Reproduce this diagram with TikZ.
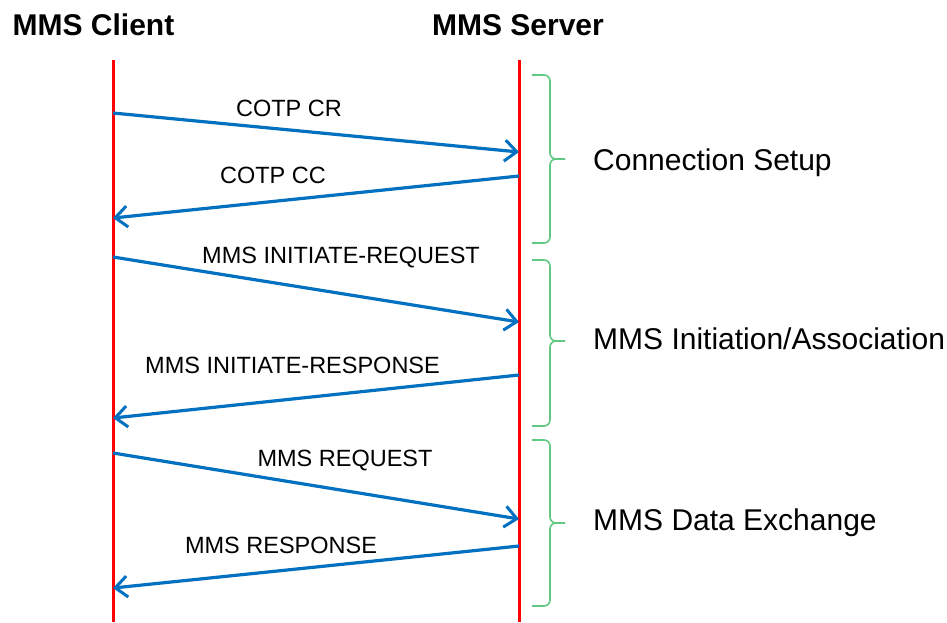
\documentclass[tikz,border=0pt]{standalone}
\usepackage{fontspec}
\setmainfont{Liberation Sans}
\usetikzlibrary{arrows.meta}

\definecolor{msgblue}{RGB}{0,112,192}
\definecolor{bracegreen}{RGB}{96,200,130}

\begin{document}
\begin{tikzpicture}[
			x=1pt,y=-1pt,
			>={Straight Barb[length=12pt,width=21pt,line width=3pt]},
			title/.style={
				inner sep=0pt,
				anchor=base,
				font=\fontsize{30}{36}\selectfont\bfseries
			},
			msglabel/.style={
				inner sep=0pt,
				anchor=base,
				font=\fontsize{23.5}{28}\selectfont
			},
			grplabel/.style={
				inner sep=0pt,
				anchor=base west,
				font=\fontsize{30}{36}\selectfont
			},
			lifeline/.style={red,line width=3pt},
			msg/.style={->,msgblue,line width=3.2pt},
			grp/.style={bracegreen,line width=1.6pt,rounded corners=6pt}
			]
			
			\useasboundingbox (0,0) rectangle (947,622);
			
			%%%%%%%%%%%%%%%%%%%%%%%%%%%%%%%%%%%%%%%%%%%%%%%%%%%%%%%%%%%%
			% Endpoints
			%%%%%%%%%%%%%%%%%%%%%%%%%%%%%%%%%%%%%%%%%%%%%%%%%%%%%%%%%%%%
			
			\node[title] (client) at (93.5,35) {MMS Client};
			
			\node[title] (server) at (518,35) {MMS Server};
			
			\coordinate (clienttop) at (113,60);
			\coordinate (clientbot) at (113,622);
			
			\coordinate (servertop) at (519,60);
			\coordinate (serverbot) at (519,622);
			
			\draw[lifeline] (clienttop) -- (clientbot);
			
			\draw[lifeline] (servertop) -- (serverbot);
			
			%%%%%%%%%%%%%%%%%%%%%%%%%%%%%%%%%%%%%%%%%%%%%%%%%%%%%%%%%%%%
			% Messages
			%%%%%%%%%%%%%%%%%%%%%%%%%%%%%%%%%%%%%%%%%%%%%%%%%%%%%%%%%%%%
			
			% COTP
			
			\coordinate (cr-from) at (113,113);
			\coordinate (cr-to) at (519,152);
			\node[msglabel] (cr) at (289,116) {COTP CR};
			
			\coordinate (cc-from) at (519,176);
			\coordinate (cc-to) at (113,218);
			\node[msglabel] (cc) at (273,183) {COTP CC};
			
			% Initiate
			
			\coordinate (inireq-from) at (113,257);
			\coordinate (inireq-to) at (519,322);
			\node[msglabel] (inireq) at (341,263) {MMS INITIATE-REQUEST};
			
			\coordinate (inirsp-from) at (519,375);
			\coordinate (inirsp-to) at (113,418);
			\node[msglabel] (inirsp) at (292.5,373) {MMS INITIATE-RESPONSE};
			
			% Data
			
			\coordinate (req-from) at (113,453);
			\coordinate (req-to) at (519,519);
			\node[msglabel] (req) at (345,466) {MMS REQUEST};
			
			\coordinate (rsp-from) at (519,546);
			\coordinate (rsp-to) at (113,588);
			\node[msglabel] (rsp) at (281,553) {MMS RESPONSE};
			
			\draw[msg] (cr-from) -- (cr-to);
			
			\draw[msg] (cc-from) -- (cc-to);
			
			\draw[msg] (inireq-from) -- (inireq-to);
			
			\draw[msg] (inirsp-from) -- (inirsp-to);
			
			\draw[msg] (req-from) -- (req-to);
			
			\draw[msg] (rsp-from) -- (rsp-to);
			
			%%%%%%%%%%%%%%%%%%%%%%%%%%%%%%%%%%%%%%%%%%%%%%%%%%%%%%%%%%%%
			% Phases
			%%%%%%%%%%%%%%%%%%%%%%%%%%%%%%%%%%%%%%%%%%%%%%%%%%%%%%%%%%%%
			
			\draw[grp] (532,75) -- (550,75) -- (550,159) -- (565,159);
			\draw[grp] (565,159) -- (550,159) -- (550,243) -- (532,243);
			\node[grplabel] (setup) at (593,170) {Connection Setup};
			
			\draw[grp] (532,260) -- (550,260) -- (550,341) -- (565,341);
			\draw[grp] (565,341) -- (550,341) -- (550,426) -- (532,426);
			\node[grplabel] (assoc) at (593,349) {MMS Initiation/Association};
			
			\draw[grp] (532,440) -- (550,440) -- (550,523) -- (565,523);
			\draw[grp] (565,523) -- (550,523) -- (550,606) -- (532,606);
			\node[grplabel] (data) at (593,530) {MMS Data Exchange};
			
		\end{tikzpicture}
\end{document}
